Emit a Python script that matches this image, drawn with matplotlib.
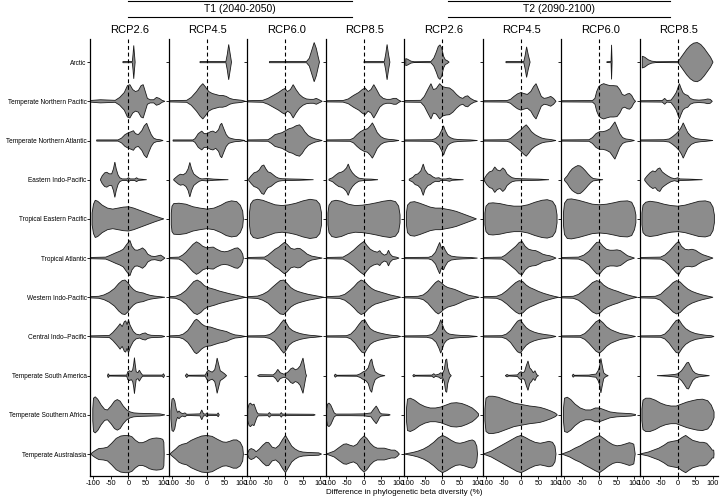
import numpy as np
import matplotlib
matplotlib.use("Agg")
from matplotlib import pyplot as plt
from matplotlib.lines import Line2D

plt.rcParams['font.family'] = ['Liberation Sans', 'DejaVu Sans']
plt.rcParams['axes.unicode_minus'] = False

regions = ["Arctic", "Temperate Northern Pacific", "Temperate Northern Atlantic",
           "Eastern Indo-Pacific", "Tropical Eastern Pacific", "Tropical Atlantic",
           "Western Indo-Pacific", "Central Indo\u2013Pacific", "Temperate South America",
           "Temperate Southern Africa", "Temperate Australasia"]
scenarios = ["RCP2.6", "RCP4.5", "RCP6.0", "RCP8.5"]
periods = ["T1 (2040-2050)", "T2 (2090-2100)"]
x_ticks = [-100, -50, 0, 50, 100]

# violin outlines: (difference %, relative half width)
t1_rcp26 = [
    [(-16, .03), (11, .03), (13, .4), (15, .85), (17, .4), (19, 0)],
    [(-110, .04), (-80, .08), (-38, .05), (-25, .2), (-12, .45), (-3, .8), (4, .85), (12, .6), (20, .5), (28, .55),
     (36, .8), (42, .85), (48, .5), (54, .15), (62, .08), (72, .08), (80, .2), (88, .15), (96, .05), (104, 0)],
    [(-91, .03), (-30, .03), (-20, .12), (-10, .3), (0, .4), (8, .45), (14, .5), (20, .35), (28, .3), (38, .5),
     (45, .75), (52, .88), (58, .6), (65, .3), (72, .12), (80, .06), (90, .04), (99, 0)],
    [(-80, .02), (-75, .2), (-68, .35), (-62, .38), (-55, .3), (-48, .3), (-43, .55), (-39, .9), (-35, .55),
     (-30, .25), (-25, .1), (-18, .04), (-5, .04), (0, .1), (5, .04), (18, .04), (23, .1), (28, .04), (52, 0)],
    [(-104, .3), (-100, .75), (-95, .95), (-88, .9), (-75, .7), (-60, .55), (-45, .5), (-30, .55), (-15, .6),
     (0, .62), (15, .55), (30, .45), (45, .35), (60, .25), (75, .15), (90, .06), (101, 0)],
    [(-110, .03), (-65, .05), (-55, .12), (-45, .2), (-35, .28), (-25, .35), (-15, .45), (-5, .7), (4, .9),
     (10, .6), (18, .42), (25, .4), (33, .45), (40, .52), (48, .4), (55, .2), (65, .1), (75, .08), (85, .12),
     (92, .15), (98, .08), (104, 0)],
    [(-110, .03), (-85, .05), (-70, .12), (-55, .25), (-40, .45), (-28, .7), (-18, .85), (-10, .88), (-2, .75),
     (6, .55), (14, .4), (22, .3), (32, .25), (42, .22), (52, .15), (62, .1), (75, .06), (90, .03), (104, 0)],
    [(-110, .03), (-55, .05), (-45, .2), (-35, .4), (-28, .55), (-24, .65), (-18, .5), (-12, .75), (-8, .8),
     (-4, .6), (0, .85), (4, .6), (8, .45), (14, .25), (22, .12), (32, .08), (40, .15), (48, .18), (55, .1),
     (65, .06), (80, .05), (95, .04), (104, 0)],
    [(-60, 0), (-58, .1), (-55, .02), (-5, .03), (-2, .2), (3, .25), (8, .2), (12, .3), (15, .6), (17, .92),
     (19, .6), (22, .2), (27, .15), (31, .28), (35, .15), (40, .03), (97, .03), (100, .1), (103, 0)],
    [(-102, .3), (-100, .85), (-95, .92), (-88, .8), (-78, .5), (-68, .28), (-60, .25), (-50, .45), (-40, .7),
     (-32, .78), (-24, .7), (-15, .45), (-5, .25), (5, .15), (15, .1), (30, .08), (50, .07), (70, .06),
     (90, .05), (104, 0)],
    [(-108, 0), (-103, .08), (-95, .18), (-85, .28), (-72, .3), (-60, .35), (-48, .55), (-35, .8), (-22, .92),
     (-10, .95), (0, .95), (10, .88), (20, .7), (30, .58), (40, .58), (50, .65), (60, .75), (70, .8), (80, .82),
     (90, .8), (98, .75), (101, .6), (102, 0)],
]

t1_rcp45 = [
    [(-20, .03), (54, .03), (58, .4), (62, .9), (66, .45), (70, 0)],
    [(-110, .03), (-58, .05), (-45, .2), (-30, .5), (-20, .75), (-12, .9), (-5, .75), (5, .5), (15, .4), (25, .35),
     (35, .3), (45, .3), (55, .25), (65, .15), (75, .1), (85, .08), (100, .05), (110, 0)],
    [(-97, .03), (-40, .03), (-34, .1), (-25, .35), (-15, .48), (-8, .35), (0, .35), (10, .45), (17, .48),
     (25, .4), (33, .55), (38, .8), (42, .88), (48, .6), (55, .3), (62, .15), (70, .1), (80, .06), (95, .04),
     (109, 0)],
    [(-95, .02), (-90, .1), (-82, .22), (-76, .28), (-68, .25), (-60, .35), (-54, .55), (-49, .88), (-44, .55),
     (-38, .3), (-30, .18), (-22, .08), (-15, .04), (0, .06), (20, .03), (61, 0)],
    [(-102, .3), (-100, .65), (-95, .78), (-80, .8), (-60, .75), (-40, .62), (-20, .55), (0, .5), (20, .55),
     (40, .7), (55, .85), (70, .92), (85, .88), (95, .7), (102, .4), (104, 0)],
    [(-110, .03), (-80, .05), (-70, .15), (-60, .3), (-50, .5), (-40, .7), (-30, .83), (-22, .75), (-12, .6),
     (0, .52), (10, .55), (18, .56), (28, .45), (40, .35), (50, .32), (60, .35), (70, .42), (80, .5), (88, .52),
     (96, .4), (102, .2), (104, 0)],
    [(-110, .03), (-90, .05), (-75, .15), (-60, .35), (-48, .6), (-38, .8), (-28, .88), (-18, .78), (-8, .6),
     (2, .5), (12, .45), (22, .4), (35, .32), (50, .25), (65, .18), (80, .12), (95, .06), (110, 0)],
    [(-110, .03), (-80, .05), (-68, .12), (-55, .3), (-45, .55), (-36, .8), (-30, .88), (-24, .8), (-16, .65),
     (-8, .55), (0, .5), (10, .48), (20, .42), (32, .35), (44, .3), (56, .25), (68, .15), (80, .08), (95, .05),
     (110, 0)],
    [(-62, 0), (-58, .1), (-54, .02), (-5, .03), (0, .2), (4, .28), (9, .22), (15, .18), (22, .3), (26, .6),
     (29, .9), (33, .6), (38, .25), (44, .18), (50, .1), (56, 0)],
    [(-103, .2), (-100, .8), (-96, .85), (-92, .7), (-88, .3), (-84, .12), (-80, .2), (-76, .12), (-70, .06),
     (-63, .1), (-58, .03), (-20, .05), (-15, .25), (-10, .05), (-3, .04), (0, .1), (3, .04), (29, .03),
     (32, .1), (35, 0)],
    [(-106, 0), (-100, .1), (-90, .25), (-80, .42), (-70, .5), (-58, .55), (-45, .7), (-30, .82), (-15, .92),
     (0, .95), (15, .9), (30, .75), (45, .62), (55, .6), (65, .65), (75, .72), (85, .72), (95, .6), (102, .35),
     (104, 0)],
]

t1_rcp60 = [
    [(-46, .03), (60, .03), (68, .2), (75, .6), (82, 1.0), (88, .7), (93, .3), (97, 0)],
    [(-110, .03), (-65, .05), (-50, .15), (-35, .3), (-20, .45), (-8, .6), (-2, .65), (6, .5), (14, .6), (22, .85),
     (30, .6), (40, .35), (50, .2), (60, .12), (70, .1), (80, .1), (88, .15), (96, .08), (105, 0)],
    [(-110, .03), (-50, .04), (-40, .15), (-30, .3), (-20, .35), (-10, .4), (0, .5), (10, .6), (20, .65),
     (30, .75), (40, .8), (48, .65), (55, .45), (65, .25), (75, .15), (85, .08), (95, .04), (105, 0)],
    [(-105, .04), (-98, .2), (-90, .35), (-82, .4), (-75, .5), (-68, .7), (-62, .75), (-56, .55), (-50, .4),
     (-42, .35), (-35, .25), (-28, .15), (-20, .08), (-10, .05), (10, .04), (40, .03), (80, 0)],
    [(-103, .3), (-100, .75), (-92, .95), (-80, 1.0), (-65, .95), (-50, .85), (-30, .72), (-10, .68), (10, .72),
     (30, .8), (50, .92), (70, 1.0), (88, .95), (98, .75), (103, .3)],
    [(-110, .03), (-60, .05), (-50, .15), (-40, .3), (-30, .45), (-20, .55), (-10, .7), (-3, .8), (5, .7),
     (15, .5), (25, .45), (35, .5), (42, .48), (52, .35), (62, .2), (75, .1), (90, .05), (105, 0)],
    [(-110, .03), (-80, .06), (-65, .15), (-50, .3), (-38, .5), (-25, .7), (-15, .85), (-5, .88), (5, .7),
     (15, .5), (25, .38), (35, .3), (50, .22), (65, .15), (80, .1), (95, .05), (110, 0)],
    [(-110, .03), (-60, .04), (-45, .1), (-32, .25), (-20, .5), (-12, .7), (-5, .85), (2, .7), (10, .45),
     (20, .3), (30, .22), (42, .15), (55, .1), (70, .06), (85, .04), (105, 0)],
    [(-80, 0), (-74, .05), (-35, .04), (-28, .15), (-22, .32), (-15, .15), (-5, .08), (0, .1), (8, .2), (15, .35),
     (21, .4), (28, .3), (35, .35), (42, .5), (47, .75), (50, .9), (54, .5), (58, .1), (60, 0)],
    [(-108, .3), (-104, .55), (-100, .6), (-95, .5), (-90, .55), (-86, .35), (-82, .15), (-78, .05), (-50, .04),
     (-46, .12), (-42, .04), (-15, .04), (-12, .12), (-9, .04), (80, .03), (85, 0)],
    [(-108, .05), (-104, .22), (-98, .28), (-90, .22), (-84, .12), (-75, .25), (-65, .45), (-55, .6), (-48, .58),
     (-38, .35), (-28, .3), (-18, .45), (-8, .75), (0, .95), (8, .7), (18, .4), (28, .25), (38, .15), (50, .1),
     (65, .08), (80, .07), (95, .06), (103, 0)],
]

t1_rcp85 = [
    [(0, .03), (58, .03), (62, .4), (66, .9), (70, .4), (74, 0)],
    [(-110, .03), (-60, .04), (-45, .12), (-30, .3), (-15, .45), (-5, .6), (3, .68), (12, .5), (20, .6), (28, .85),
     (36, .6), (45, .3), (55, .15), (65, .1), (75, .1), (85, .15), (92, .15), (100, .05), (106, 0)],
    [(-110, .03), (-40, .04), (-30, .12), (-20, .3), (-10, .45), (0, .55), (10, .6), (18, .75), (24, .9),
     (30, .7), (38, .4), (48, .2), (58, .1), (70, .06), (85, .04), (100, 0)],
    [(-100, .03), (-90, .1), (-80, .25), (-72, .35), (-65, .38), (-58, .45), (-50, .6), (-45, .8), (-40, .55),
     (-33, .35), (-25, .2), (-15, .08), (0, .04), (20, .03), (40, 0)],
    [(-103, .3), (-100, .7), (-92, .9), (-80, .95), (-65, .9), (-45, .75), (-25, .68), (-5, .7), (15, .75),
     (35, .82), (55, .9), (75, .95), (90, .88), (99, .65), (103, .2)],
    [(-110, .03), (-60, .05), (-45, .2), (-30, .4), (-18, .6), (-8, .75), (0, .85), (8, .65), (18, .45),
     (28, .35), (38, .3), (45, .38), (50, .25), (58, .15), (65, .2), (70, .4), (75, .2), (82, .08), (92, .05),
     (100, 0)],
    [(-110, .03), (-70, .06), (-55, .15), (-40, .35), (-28, .55), (-18, .75), (-8, .88), (2, .8), (12, .6),
     (22, .45), (32, .35), (45, .28), (60, .2), (75, .12), (90, .06), (105, 0)],
    [(-110, .03), (-50, .04), (-38, .12), (-25, .35), (-15, .6), (-6, .8), (2, .85), (10, .6), (18, .4),
     (28, .28), (40, .2), (52, .15), (65, .1), (80, .06), (95, .04), (105, 0)],
    [(-85, 0), (-82, .08), (-78, .02), (-20, .03), (-10, .1), (-2, .2), (5, .25), (12, .4), (18, .75), (22, .85),
     (26, .5), (32, .2), (40, .1), (48, .04), (60, 0)],
    [(-108, .2), (-104, .55), (-100, .6), (-95, .5), (-90, .3), (-85, .1), (-80, .04), (-40, .04), (0, .05),
     (20, .1), (28, .3), (35, .45), (40, .3), (45, .12), (50, .05), (70, .03), (75, 0)],
    [(-108, 0), (-100, .05), (-85, .15), (-70, .35), (-58, .5), (-50, .52), (-40, .45), (-30, .4), (-20, .5),
     (-10, .75), (0, .92), (8, .8), (18, .55), (28, .38), (38, .3), (48, .3), (58, .3), (68, .25), (78, .2),
     (88, .2), (95, .12), (101, 0)],
]

t2_rcp26 = [
    [(-105, .18), (-100, .15), (-90, .05), (-81, .02), (-33, .03), (-25, .2), (-18, .5), (-12, .8), (-7, .88),
     (-2, .7), (3, .3), (8, .12), (13, .08), (19, 0)],
    [(-110, .04), (-62, .05), (-52, .25), (-42, .6), (-33, .9), (-26, .6), (-18, .65), (-8, .9), (0, .75),
     (10, .7), (20, .68), (30, .55), (40, .35), (50, .2), (58, .15), (65, .25), (72, .28), (80, .15), (90, .05),
     (100, 0)],
    [(-110, .03), (-30, .04), (-20, .1), (-10, .25), (-3, .5), (3, .75), (8, .5), (15, .25), (22, .15), (32, .08),
     (45, .05), (60, .04), (80, .03), (100, 0)],
    [(-95, .03), (-85, .12), (-78, .25), (-70, .3), (-62, .45), (-55, .8), (-50, .5), (-42, .3), (-35, .25),
     (-28, .15), (-20, .08), (-10, .1), (-5, .04), (10, .04), (20, .08), (28, .03), (60, 0)],
    [(-103, .3), (-100, .7), (-92, .85), (-80, .88), (-65, .8), (-50, .7), (-35, .6), (-20, .55), (-5, .55),
     (10, .5), (25, .45), (40, .38), (55, .28), (70, .18), (85, .08), (97, 0)],
    [(-110, .03), (-40, .04), (-30, .1), (-20, .3), (-13, .6), (-8, .8), (-3, .5), (3, .6), (8, .4), (15, .2),
     (25, .1), (40, .06), (60, .04), (80, .03), (100, 0)],
    [(-110, .03), (-70, .05), (-55, .12), (-42, .3), (-30, .55), (-20, .75), (-12, .85), (-4, .75), (5, .6),
     (15, .5), (25, .45), (35, .4), (48, .3), (60, .2), (75, .1), (90, .05), (105, 0)],
    [(-110, .03), (-45, .04), (-30, .1), (-18, .3), (-10, .6), (-5, .85), (0, .6), (5, .35), (12, .2), (20, .12),
     (35, .08), (55, .05), (75, .04), (100, 0)],
    [(-85, 0), (-82, .06), (-78, .02), (-30, .03), (-25, .1), (-20, .03), (-10, .08), (-5, .15), (0, .1), (5, .3),
     (9, .8), (12, .85), (15, .4), (20, .1), (25, 0)],
    [(-103, .3), (-100, .8), (-92, .85), (-80, .75), (-65, .55), (-50, .42), (-35, .35), (-20, .35), (-5, .4),
     (10, .5), (25, .6), (40, .62), (55, .58), (70, .48), (85, .35), (95, .2), (103, .05)],
    [(-109, 0), (-100, .03), (-85, .08), (-70, .15), (-55, .25), (-40, .4), (-25, .6), (-12, .82), (0, .95),
     (12, .85), (25, .7), (38, .58), (50, .55), (62, .6), (75, .68), (85, .72), (92, .65), (98, .4), (100, 0)],
]

t2_rcp45 = [
    [(-43, .03), (8, .03), (12, .35), (16, .78), (21, .35), (26, 0)],
    [(-110, .03), (-40, .04), (-30, .1), (-20, .25), (-10, .38), (0, .45), (8, .4), (18, .35), (28, .5), (36, .75),
     (43, .9), (50, .6), (58, .25), (66, .15), (75, .18), (85, .25), (93, .15), (100, 0)],
    [(-110, .03), (-40, .04), (-30, .1), (-20, .25), (-10, .4), (0, .55), (8, .7), (15, .8), (22, .65), (30, .45),
     (40, .3), (50, .2), (60, .12), (70, .08), (85, .05), (100, 0)],
    [(-105, .05), (-98, .25), (-90, .4), (-82, .45), (-75, .65), (-68, .5), (-60, .45), (-52, .6), (-46, .5),
     (-40, .3), (-32, .18), (-25, .1), (-15, .06), (0, .05), (20, .04), (50, .03), (80, 0)],
    [(-103, .3), (-100, .65), (-92, .8), (-80, .82), (-60, .78), (-40, .7), (-20, .65), (0, .65), (20, .72),
     (40, .85), (60, .95), (75, .98), (90, .9), (99, .65), (103, .2)],
    [(-110, .03), (-55, .05), (-45, .15), (-35, .3), (-25, .45), (-15, .6), (-5, .8), (3, .85), (12, .6),
     (22, .45), (32, .4), (42, .38), (52, .3), (62, .2), (72, .15), (82, .12), (92, .06), (100, 0)],
    [(-110, .03), (-70, .05), (-55, .15), (-40, .35), (-28, .55), (-15, .75), (-5, .85), (5, .8), (15, .62),
     (25, .5), (38, .4), (50, .3), (65, .2), (80, .12), (95, .05), (108, 0)],
    [(-110, .03), (-55, .04), (-42, .12), (-30, .3), (-20, .55), (-10, .78), (-2, .85), (6, .65), (15, .45),
     (25, .32), (38, .22), (52, .15), (68, .1), (85, .06), (100, 0)],
    [(-45, 0), (-40, .06), (-35, .02), (-10, .04), (-5, .15), (0, .2), (5, .15), (10, .2), (15, .5), (20, .75),
     (25, .4), (30, .3), (35, .15), (40, .25), (45, .05), (50, 0)],
    [(-103, .3), (-100, .85), (-92, .95), (-80, .95), (-65, .9), (-50, .8), (-35, .7), (-20, .6), (-5, .55),
     (10, .5), (25, .45), (40, .42), (55, .38), (70, .3), (85, .2), (97, .1), (103, .02)],
    [(-109, 0), (-100, .05), (-85, .15), (-70, .3), (-55, .45), (-40, .6), (-25, .75), (-12, .88), (0, .95),
     (12, .85), (25, .72), (40, .6), (55, .55), (68, .6), (80, .65), (90, .6), (97, .4), (100, 0)],
]

t2_rcp60 = [
    [(21, .02), (33, .03), (34.5, .88), (36, 0)],
    [(-110, .03), (-20, .04), (-13, .15), (-8, .5), (-2, .75), (5, .85), (12, .9), (20, .85), (30, .8), (40, .8),
     (50, .78), (58, .6), (65, .35), (72, .3), (80, .38), (86, .4), (92, .3), (98, .1), (103, 0)],
    [(-110, .03), (-30, .04), (-20, .15), (-10, .35), (0, .45), (10, .45), (20, .5), (30, .6), (38, .8), (44, .95),
     (50, .7), (58, .35), (66, .15), (75, .08), (90, .04), (100, 0)],
    [(-100, .04), (-92, .2), (-85, .4), (-78, .55), (-70, .65), (-62, .72), (-55, .7), (-48, .6), (-40, .45),
     (-33, .3), (-25, .15), (-18, .06), (-5, .03), (10, 0)],
    [(-103, .3), (-100, .8), (-92, 1.0), (-80, 1.02), (-60, .95), (-40, .85), (-20, .75), (0, .72), (20, .75),
     (40, .82), (60, .9), (80, .92), (92, .85), (100, .55), (104, .2)],
    [(-110, .03), (-60, .05), (-45, .15), (-30, .35), (-18, .6), (-8, .8), (0, .82), (10, .6), (20, .45), (30, .4),
     (40, .4), (50, .42), (60, .38), (70, .25), (80, .12), (90, .06), (100, 0)],
    [(-110, .03), (-75, .05), (-60, .15), (-45, .35), (-32, .55), (-20, .75), (-8, .85), (2, .8), (12, .62),
     (24, .48), (38, .38), (52, .3), (66, .2), (80, .12), (95, .05), (108, 0)],
    [(-110, .03), (-55, .04), (-42, .15), (-30, .35), (-20, .55), (-10, .75), (0, .85), (10, .7), (20, .5),
     (32, .35), (45, .25), (60, .15), (75, .1), (90, .05), (103, 0)],
    [(-78, 0), (-75, .08), (-72, .02), (-30, .03), (-20, .06), (-10, .08), (-4, .25), (0, .45), (4, .88), (8, .5),
     (12, .15), (18, .05), (25, 0)],
    [(-103, .3), (-100, .85), (-92, .9), (-82, .78), (-70, .55), (-55, .35), (-40, .25), (-25, .25), (-12, .35),
     (0, .35), (15, .25), (30, .15), (50, .1), (70, .08), (90, .06), (103, .02)],
    [(-108, 0), (-100, .05), (-85, .15), (-70, .3), (-55, .42), (-40, .58), (-25, .72), (-12, .85), (0, .95),
     (12, .8), (25, .62), (38, .48), (50, .42), (62, .45), (75, .52), (85, .58), (92, .55), (98, .5), (102, 0)],
]

t2_rcp85 = [
    [(-102, .3), (-95, .25), (-85, .12), (-75, .05), (-62, .02), (0, .03), (5, .15), (15, .4), (25, .65),
     (35, .85), (45, .97), (55, 1.0), (65, .9), (75, .7), (85, .45), (93, .25), (100, 0)],
    [(-110, .03), (-45, .04), (-38, .15), (-32, .04), (-20, .06), (-12, .25), (-5, .45), (0, .7), (4, .9), (8, .7),
     (14, .45), (20, .35), (28, .3), (35, .15), (45, .08), (60, .06), (75, .08), (85, .12), (92, .1), (98, 0)],
    [(-110, .03), (-40, .04), (-25, .08), (-15, .2), (-5, .35), (3, .5), (10, .7), (15, .9), (20, .7), (28, .4),
     (38, .2), (50, .1), (65, .06), (80, .04), (100, 0)],
    [(-95, .04), (-88, .2), (-80, .35), (-72, .45), (-65, .4), (-58, .55), (-52, .6), (-45, .4), (-38, .3),
     (-30, .2), (-20, .1), (-10, .05), (0, .1), (5, .04), (30, .03), (70, 0)],
    [(-103, .3), (-100, .7), (-92, .85), (-80, .9), (-60, .85), (-40, .75), (-20, .68), (0, .65), (20, .7),
     (40, .8), (60, .9), (78, .92), (92, .85), (100, .6), (104, .2)],
    [(-110, .03), (-50, .05), (-38, .15), (-25, .35), (-15, .55), (-5, .75), (2, .85), (10, .6), (20, .45),
     (30, .42), (40, .45), (50, .4), (60, .28), (70, .18), (80, .12), (90, .06), (100, 0)],
    [(-110, .03), (-65, .05), (-50, .15), (-38, .35), (-25, .55), (-14, .75), (-4, .85), (6, .78), (16, .6),
     (28, .42), (40, .3), (55, .2), (70, .12), (85, .06), (100, 0)],
    [(-110, .03), (-50, .04), (-38, .12), (-25, .35), (-15, .6), (-5, .82), (3, .85), (12, .6), (22, .4),
     (35, .25), (50, .15), (65, .1), (80, .06), (95, .04), (103, 0)],
    [(-60, 0), (-30, .03), (-10, .06), (0, .1), (10, .25), (18, .45), (25, .65), (30, .68), (35, .5), (42, .25),
     (50, .12), (60, .06), (75, .03), (90, 0)],
    [(-103, .3), (-100, .75), (-92, .85), (-80, .85), (-65, .75), (-50, .6), (-35, .5), (-20, .45), (-5, .45),
     (10, .55), (25, .65), (40, .72), (55, .78), (70, .8), (85, .72), (95, .5), (103, .15)],
    [(-109, 0), (-100, .04), (-85, .1), (-70, .2), (-55, .3), (-40, .45), (-28, .6), (-15, .65), (0, .7),
     (12, .85), (22, .95), (32, .82), (42, .7), (52, .65), (62, .6), (72, .6), (82, .55), (92, .35), (98, .2),
     (102, .2), (103, 0)],
]

panels = [t1_rcp26, t1_rcp45, t1_rcp60, t1_rcp85, t2_rcp26, t2_rcp45, t2_rcp60, t2_rcp85]

W, H = 722, 498
fig = plt.figure(figsize=(W / 100, H / 100), dpi=100)

left, right, top, bottom = 90, 718, 39, 476
pw = (right - left) / 8
row_pos = np.arange(len(regions))

axes = []
for k, data in enumerate(panels):
    ax = fig.add_axes([(left + k * pw) / W, (H - bottom) / H, pw / W, (bottom - top) / H])
    for i, prof in enumerate(data):
        xs = np.array([p[0] for p in prof], dtype=float)
        hw = np.array([p[1] for p in prof], dtype=float) * 0.5
        ax.fill(np.r_[xs, xs[::-1]], np.r_[i - hw, (i + hw)[::-1]],
                facecolor='#8c8c8c', edgecolor='#1a1a1a', lw=0.6, zorder=2)
    ax.axvline(0, color='black', lw=0.8, ls=(0, (3.5, 2.5)), zorder=3)
    ax.set_xlim(-110, 114.3)
    ax.set_ylim(len(regions) - 1 + 0.56, -0.59)
    ax.set_xticks(x_ticks)
    ax.set_yticks(row_pos)
    if k == 0:
        ax.set_yticklabels(regions, fontsize=4.7)
    else:
        ax.set_yticklabels([])
    ax.tick_params(axis='x', labelsize=5.3, length=2, width=0.6, pad=1)
    ax.tick_params(axis='y', length=2, width=0.6, pad=0.5)
    for s in ['top', 'right']:
        ax.spines[s].set_visible(False)
    for s in ['left', 'bottom']:
        ax.spines[s].set_linewidth(0.9)
    ax.set_facecolor('none')
    ax.set_title(scenarios[k % 4], fontsize=8, pad=4)
    axes.append(ax)

# period headers with rules above and below
for (x0, x1), label in zip([(128, 352), (448, 670)], periods):
    for yy in (1, 17):
        fig.add_artist(Line2D([x0 / W, x1 / W], [1 - yy / H, 1 - yy / H], color='black', lw=0.8))
    fig.text((x0 + x1) / 2 / W, 1 - 9.5 / H, label, ha='center', va='center', fontsize=7.5)

fig.text((left + right) / 2 / W, 1 - 492 / H, "Difference in phylogenetic beta diversity (%)",
         ha='center', va='center', fontsize=5.8)

fig.savefig("out.png", dpi=100)
